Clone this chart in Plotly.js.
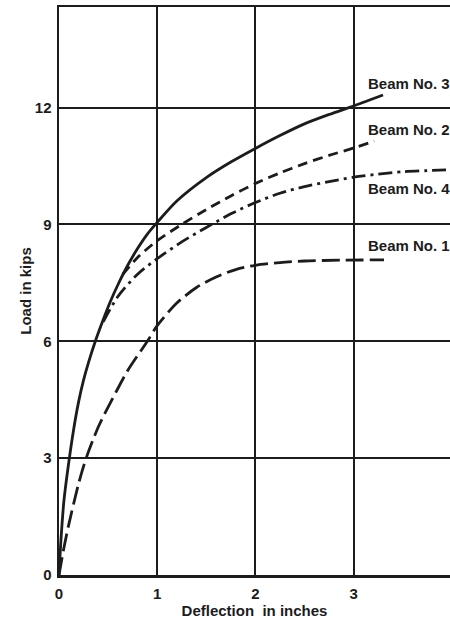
<!DOCTYPE html>
<html>
<head>
<meta charset="utf-8">
<script src="https://cdn.plot.ly/plotly-3.0.1.min.js"></script>
<style>html,body{margin:0;padding:0;background:#fff;}#chart{width:450px;height:620px;}</style>
</head>
<body>
<div id="chart"></div>
<script>
// Deflection (inches) and load (kips)
const beam3X = [0, 0.02, 0.05, 0.1, 0.15, 0.2, 0.25, 0.3, 0.37, 0.45, 0.52, 0.6, 0.7, 0.8, 0.9, 1.0, 1.2, 1.5, 1.75, 2.0, 2.25, 2.5, 2.75, 3.0, 3.15, 3.3];
const beam3Y = [0, 0.9, 1.9, 2.9, 3.75, 4.45, 5.0, 5.45, 6.0, 6.55, 7.0, 7.45, 7.95, 8.38, 8.75, 9.05, 9.6, 10.2, 10.6, 10.95, 11.28, 11.58, 11.82, 12.04, 12.18, 12.32];

const beam2X = [0.65, 0.8, 1.0, 1.25, 1.5, 1.75, 2.0, 2.25, 2.5, 2.75, 3.0, 3.21];
const beam2Y = [7.72, 8.15, 8.58, 9.0, 9.38, 9.73, 10.05, 10.32, 10.56, 10.77, 10.96, 11.14];

const beam4X = [0.45, 0.6, 0.8, 1.0, 1.25, 1.5, 1.75, 2.0, 2.25, 2.5, 2.75, 3.0, 3.25, 3.5, 3.75, 3.98];
const beam4Y = [6.5, 7.15, 7.72, 8.12, 8.55, 8.92, 9.27, 9.56, 9.8, 9.97, 10.1, 10.21, 10.29, 10.35, 10.38, 10.4];

const beam1X = [0, 0.05, 0.1, 0.2, 0.277, 0.4, 0.54, 0.7, 0.9, 1.0, 1.2, 1.4, 1.6, 1.8, 2.0, 2.25, 2.5, 2.86, 3.31];
const beam1Y = [0, 0.7, 1.3, 2.35, 3.0, 3.8, 4.5, 5.25, 6.0, 6.4, 6.98, 7.38, 7.65, 7.84, 7.95, 8.02, 8.06, 8.08, 8.09];

const labelNames = ["Beam No. 3", "Beam No. 2", "Beam No. 4", "Beam No. 1"];
const labelX = [3.13, 3.13, 3.13, 3.13];
const labelY = [12.61, 11.44, 9.93, 8.45];

const xTicks = [0, 1, 2, 3];
const yTicks = [0, 3, 6, 9, 12];

const ink = "#1c1c1c";
const fontFam = "Liberation Sans, Arial, sans-serif";

function curve(x, y, dash) {
  return {x: x, y: y, type: "scatter", mode: "lines",
    line: {color: ink, width: 2.8, dash: dash, shape: "spline", smoothing: 0.8},
    hoverinfo: "skip", showlegend: false};
}

const data = [
  curve(beam3X, beam3Y, "solid"),
  curve(beam2X, beam2Y, "10px,6px"),
  curve(beam4X, beam4Y, "14px,5px,3px,5px"),
  curve(beam1X, beam1Y, "18px,6px")
];

const annotations = labelNames.map((t, i) => ({
  x: labelX[i], y: labelY[i], xref: "x", yref: "y", text: t, showarrow: false,
  xanchor: "left", yanchor: "middle",
  font: {family: fontFam, size: 15, color: ink, weight: "bold"}
}));

const layout = {
  width: 450, height: 620,
  margin: {l: 59, r: 0, t: 7, b: 45},
  paper_bgcolor: "#ffffff", plot_bgcolor: "#ffffff",
  showlegend: false,
  xaxis: {
    range: [0, 3.982], tickvals: xTicks, ticktext: xTicks.map(String),
    showgrid: true, gridcolor: ink, gridwidth: 2, zeroline: false,
    showline: true, linecolor: ink, linewidth: 2.5, mirror: true,
    ticks: "outside", ticklen: 3, tickcolor: "rgba(0,0,0,0)",
    tickfont: {family: fontFam, size: 15, color: ink, weight: "bold"},
    title: {text: "Deflection\u00a0 in inches", standoff: 5,
      font: {family: fontFam, size: 15, color: ink, weight: "bold"}},
    automargin: false, fixedrange: true
  },
  yaxis: {
    range: [0, 14.58], tickvals: yTicks, ticktext: yTicks.map(String),
    showgrid: true, gridcolor: ink, gridwidth: 2, zeroline: false,
    showline: true, linecolor: ink, linewidth: 2.5, mirror: false,
    ticks: "outside", ticklen: 2, tickcolor: "rgba(0,0,0,0)",
    tickfont: {family: fontFam, size: 15, color: ink, weight: "bold"},
    title: {text: "Load in kips", standoff: 0,
      font: {family: fontFam, size: 15, color: ink, weight: "bold"}},
    automargin: false, fixedrange: true
  },
  annotations: annotations
};

Plotly.newPlot("chart", data, layout, {staticPlot: true, displayModeBar: false});
</script>
</body>
</html>
